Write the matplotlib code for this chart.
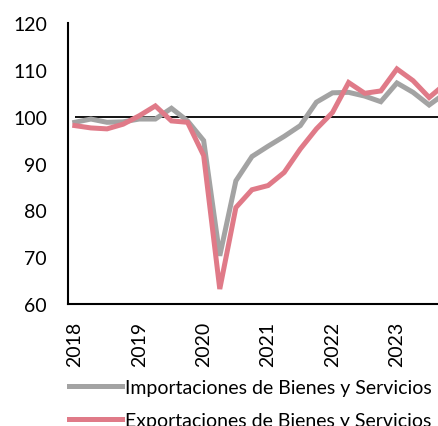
import numpy as np
import matplotlib
matplotlib.use("Agg")
import matplotlib.pyplot as plt

plt.rcParams['font.family'] = ['Lato', 'DejaVu Sans']

# quarterly index, 2018Q1 .. 2023Q4
quarters = ['2018Q1', '2018Q2', '2018Q3', '2018Q4', '2019Q1', '2019Q2', '2019Q3', '2019Q4',
            '2020Q1', '2020Q2', '2020Q3', '2020Q4', '2021Q1', '2021Q2', '2021Q3', '2021Q4',
            '2022Q1', '2022Q2', '2022Q3', '2022Q4', '2023Q1', '2023Q2', '2023Q3', '2023Q4']
importaciones = [98.8, 99.5, 98.8, 98.9, 99.5, 99.5, 101.8, 99.1,
                 94.9, 70.3, 86.3, 91.5, 93.7, 95.8, 98.1, 103.1,
                 105.1, 105.2, 104.4, 103.2, 107.2, 105.2, 102.5, 105.0]
exportaciones = [98.1, 97.6, 97.4, 98.4, 100.2, 102.3, 99.1, 98.8,
                 91.7, 63.2, 80.6, 84.4, 85.3, 88.1, 93.1, 97.4,
                 100.9, 107.3, 105.0, 105.5, 110.2, 107.7, 104.1, 107.0]
base = 100
year_labels = ['2018', '2019', '2020', '2021', '2022', '2023']
y_ticks = [60, 70, 80, 90, 100, 110, 120]

x = np.arange(len(quarters))

fig = plt.figure(figsize=(4.38, 4.27), dpi=100)
ax = fig.add_axes([0.155, 0.2857, 0.845, 0.658])

ax.hlines(base, x[0], x[-1], color='black', lw=1.3, zorder=1)
l1, = ax.plot(x, importaciones, color='#a3a3a3', lw=3.6, solid_joinstyle='miter', zorder=2)
l2, = ax.plot(x, exportaciones, color='#e07a88', lw=3.6, solid_joinstyle='miter', zorder=3)

ax.set_xlim(-0.43, 22.55)
ax.set_ylim(60, 120)
ax.set_yticks(y_ticks)
ax.set_xticks(x[::4])
ax.set_xticklabels(year_labels, rotation=90)
ax.tick_params(axis='both', length=0, labelsize=14)
ax.tick_params(axis='y', pad=15)
ax.tick_params(axis='x', pad=12)

for s in ['top', 'right']:
    ax.spines[s].set_visible(False)
for s in ['left', 'bottom']:
    ax.spines[s].set_linewidth(1.5)

fig.legend([l1, l2], ['Importaciones de Bienes y Servicios', 'Exportaciones de Bienes y Servicios'],
           loc='upper left', bbox_to_anchor=(0.14, 0.128), frameon=False, fontsize=14,
           handlelength=2.7, handletextpad=0.2, labelspacing=0.8, borderaxespad=0)

fig.savefig('out.png', dpi=100)
